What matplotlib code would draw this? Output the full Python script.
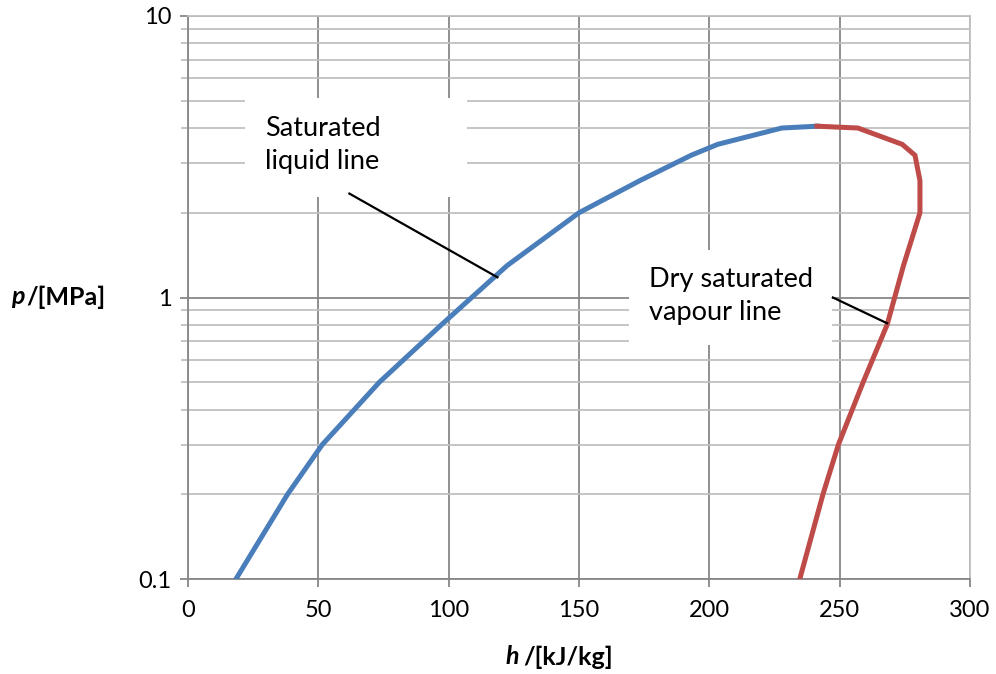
import matplotlib
matplotlib.use("Agg")
import matplotlib.pyplot as plt
from matplotlib.patches import Rectangle
from matplotlib.ticker import FixedLocator, NullFormatter

plt.rcParams["font.family"] = ["Lato", "DejaVu Sans"]

# saturation line data (R134a-like)
p_liq = [0.1, 0.2, 0.3, 0.5, 0.8, 1.3, 2.0, 2.6, 3.2, 3.5, 4.0, 4.06]
h_liq = [18.4, 38.2, 51.5, 73.4, 97.2, 122.5, 150.0, 173.3, 193.0, 203.2, 227.8, 241.3]
p_vap = [4.06, 4.0, 3.5, 3.2, 2.6, 2.0, 1.3, 0.8, 0.5, 0.3, 0.2, 0.1]
h_vap = [241.3, 257.0, 274.0, 278.9, 280.8, 280.8, 274.5, 268.2, 259.0, 249.5, 243.6, 234.7]

x_ticks = [0, 50, 100, 150, 200, 250, 300]
y_ticks = [0.1, 1, 10]
y_tick_labels = ["0.1", "1", "10"]
y_minor = [v * d for d in (0.1, 1) for v in range(2, 10)]

# annotation leader lines (data coords: h, p)
liq_leader_h = [61.9, 118.7]
liq_leader_p = [2.34, 1.18]
vap_leader_h = [247.4, 268.2]
vap_leader_p = [1.0, 0.81]

BLUE = "#4A7EBB"
RED = "#BE4B48"
GRID_MAJ = "#878787"
GRID_MIN = "#c0c0c0"

fig = plt.figure(figsize=(9.96, 6.74), dpi=100)
ax = fig.add_axes([188 / 996, 1 - 579 / 674, 782 / 996, 563 / 674])

ax.set_yscale("log")
ax.set_xlim(0, 300)
ax.set_ylim(0.1, 10)

ax.xaxis.set_major_locator(FixedLocator(x_ticks))
ax.yaxis.set_major_locator(FixedLocator(y_ticks))
ax.set_yticklabels(y_tick_labels)
ax.yaxis.set_minor_locator(FixedLocator(y_minor))
ax.yaxis.set_minor_formatter(NullFormatter())

ax.grid(True, which="major", axis="both", color=GRID_MAJ, lw=1.3)
ax.grid(True, which="minor", axis="y", color=GRID_MIN, lw=1.3)
ax.set_axisbelow(True)

for s in ax.spines.values():
    s.set_color(GRID_MAJ)
    s.set_linewidth(1.3)
ax.spines["top"].set_color(GRID_MIN)
ax.spines["right"].set_color(GRID_MIN)

ax.tick_params(axis="both", which="major", length=6, width=1.3, color=GRID_MAJ,
               labelsize=17, pad=6)
ax.tick_params(axis="y", which="minor", length=5, width=1.3, color=GRID_MIN)
ax.tick_params(axis="x", pad=9)

ax.plot(h_liq, p_liq, color=BLUE, lw=3.6, solid_joinstyle="miter", zorder=4)
ax.plot(h_vap, p_vap, color=RED, lw=3.6, solid_joinstyle="miter", zorder=4)

# white label boxes covering the grid
ax.add_patch(Rectangle((0.0729, 0.6785), 0.284, 0.1755, transform=ax.transAxes,
                       facecolor="white", edgecolor="none", zorder=2))
ax.add_patch(Rectangle((0.564, 0.4156), 0.2595, 0.1688, transform=ax.transAxes,
                       facecolor="white", edgecolor="none", zorder=2))

ax.text(0.0985, 0.771, "Saturated\nliquid line", transform=ax.transAxes,
        fontsize=19.5, ha="left", va="center", linespacing=1.4, zorder=3)
ax.text(0.590, 0.503, "Dry saturated\nvapour line", transform=ax.transAxes,
        fontsize=19.5, ha="left", va="center", linespacing=1.4, zorder=3)

ax.plot(liq_leader_h, liq_leader_p, color="black", lw=1.6, zorder=5)
ax.plot(vap_leader_h, vap_leader_p, color="black", lw=1.6, zorder=5)

# axis titles: italic bold symbol + bold unit
fig.text(519 / 996, 1 - 657 / 674, "h", fontsize=18, fontweight="bold",
         fontstyle="italic", ha="right", va="center")
fig.text(523 / 996, 1 - 657 / 674, "/[kJ/kg]", fontsize=18, fontweight="bold",
         ha="left", va="center")
fig.text(25 / 996, 1 - 297 / 674, "p", fontsize=18, fontweight="bold",
         fontstyle="italic", ha="right", va="center")
fig.text(26 / 996, 1 - 297 / 674, "/[MPa]", fontsize=18, fontweight="bold",
         ha="left", va="center")

fig.savefig("out.png", dpi=100)
